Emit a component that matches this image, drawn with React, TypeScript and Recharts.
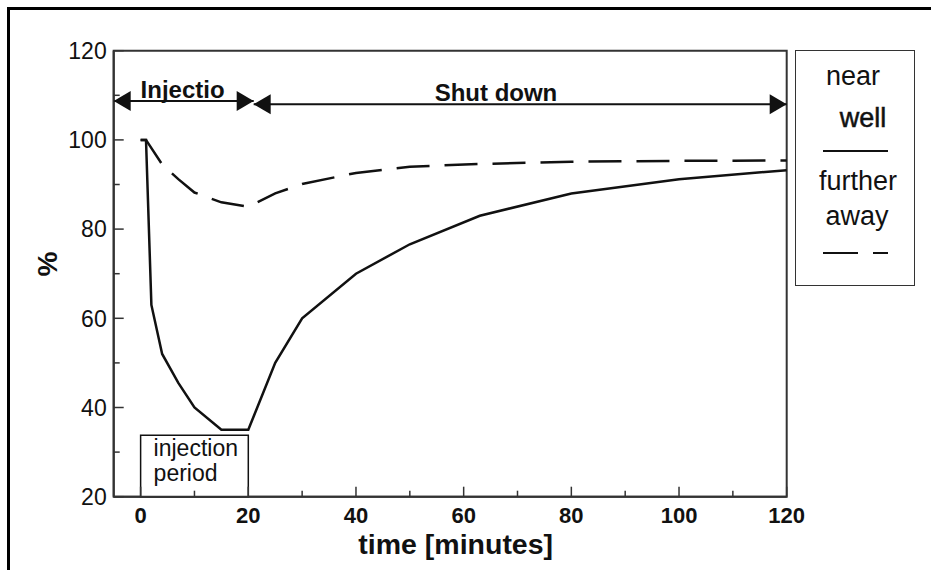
import { LineChart, Line, XAxis, YAxis, ReferenceArea, ReferenceLine, ReferenceDot, Label } from 'recharts';

// time in minutes and the two recovery curves (%)
const time = [0, 1, 2, 4, 7, 10, 15, 20, 25, 30, 40, 50, 63, 80, 100, 120];
const nearWell = [100, 100, 63, 52, 45.5, 40, 35, 35, 50, 60, 70, 76.6, 83, 88, 91.2, 93.2];
const furtherAway = [100, 100, null, 94.5, 91.2, 88.2, 86, 85, 88, 90.1, 92.6, 94, 94.6, 95.1, 95.3, 95.4];

const xTicks = [0, 10, 20, 30, 40, 50, 60, 70, 80, 90, 100, 110, 120];
const yTicks = [20, 30, 40, 50, 60, 70, 80, 90, 100, 110, 120];

const data = time.map((t, i) => ({ t, near: nearWell[i], far: furtherAway[i] }));

const FONT = '"Liberation Sans", Arial, sans-serif';
const INK = '#111';
const AXIS = '#333';
const DASH = '33 15';

const XTick = (props: any) => {
	const { x, y, payload } = props;
	const major = payload.value % 20 === 0;
	return (
		<g>
			<line x1={x} x2={x} y1={y} y2={y - (major ? 10 : 6)} stroke={AXIS} strokeWidth={1.5} />
			{major && (
				<text x={x} y={y + 26} textAnchor='middle' fontSize={22} fontWeight='bold' fill={INK} fontFamily={FONT}>
					{payload.value}
				</text>
			)}
		</g>
	);
};

const YTick = (props: any) => {
	const { x, y, payload } = props;
	const major = payload.value % 20 === 0;
	return (
		<g>
			<line x1={x} x2={x + (major ? 10 : 6)} y1={y} y2={y} stroke={AXIS} strokeWidth={1.5} />
			{major && (
				<text x={x - 7} y={y} dy='0.36em' textAnchor='end' fontSize={23} fill={INK} fontFamily={FONT}>
					{payload.value}
				</text>
			)}
		</g>
	);
};

const arrowHead = (dir: 'left' | 'right') => (p: any) => {
	const s = dir === 'left' ? 1 : -1;
	return (
		<polygon
			points={`${p.cx},${p.cy} ${p.cx + s * 17},${p.cy - 10} ${p.cx + s * 17},${p.cy + 10}`}
			fill={INK}
		/>
	);
};

const textShape = (label: string) => (p: any) => (
	<text x={p.cx} y={p.cy} textAnchor='middle' fontSize={24} fontWeight='bold' fill={INK} fontFamily={FONT}>
		{label}
	</text>
);

const App = () => {
	return (
		<div style={{ position: 'fixed', left: 0, top: 0, width: 931, height: 570, background: '#fff', fontFamily: FONT }}>
			<div style={{ position: 'absolute', left: 7.3, top: 7.3, width: 924, height: 3, background: '#000' }} />
			<div style={{ position: 'absolute', left: 7.3, top: 7.3, width: 3, height: 563, background: '#000' }} />

			<LineChart
				width={931}
				height={570}
				data={data}
				margin={{ top: 50.7, right: 144.3, bottom: 33.3, left: 13.7 }}
				style={{ position: 'absolute', left: 0, top: 0 }}
			>
				<XAxis
					dataKey='t'
					type='number'
					domain={[-5, 120]}
					ticks={xTicks}
					interval={0}
					height={40}
					tickSize={0}
					tickMargin={0}
					tick={<XTick />}
					axisLine={{ stroke: AXIS, strokeWidth: 2 }}
					tickLine={false}
				>
					<Label
						content={(p: any) => (
							<text
								x={p.viewBox.x + p.viewBox.width / 2 + 5.5}
								y={p.viewBox.y + 57}
								textAnchor='middle'
								fontSize={28.5}
								fontWeight='bold'
								fill={INK}
								fontFamily={FONT}
							>
								time [minutes]
							</text>
						)}
					/>
				</XAxis>
				<YAxis
					type='number'
					domain={[20, 120]}
					ticks={yTicks}
					interval={0}
					width={100}
					tickSize={0}
					tickMargin={0}
					tick={<YTick />}
					axisLine={{ stroke: AXIS, strokeWidth: 2 }}
					tickLine={false}
				>
					<Label
						content={(p: any) => {
							const cx = 47.5;
							const cy = p.viewBox.y + p.viewBox.height / 2 - 9.7;
							return (
								<text
									x={cx}
									y={cy}
									transform={`rotate(-90 ${cx} ${cy})`}
									textAnchor='middle'
									dominantBaseline='central'
									fontSize={28}
									fontWeight='bold'
									fill={INK}
									fontFamily={FONT}
								>
									%
								</text>
							);
						}}
					/>
				</YAxis>

				<ReferenceArea x1={-5} x2={120} y1={20} y2={120} fill='none' stroke={AXIS} strokeWidth={2} />

				<Line
					type='linear'
					dataKey='far'
					stroke={INK}
					strokeWidth={2.5}
					strokeDasharray={DASH}
					dot={false}
					connectNulls
					isAnimationActive={false}
				/>
				<Line type='linear' dataKey='near' stroke={INK} strokeWidth={2.5} dot={false} isAnimationActive={false} />

				<ReferenceArea
					x1={0}
					x2={20}
					y1={20}
					y2={33.8}
					fill='#fff'
					fillOpacity={1}
					stroke={INK}
					strokeWidth={1.5}
					label={(p: any) => (
						<g fontFamily={FONT} fontSize={23} fill={INK}>
							<text x={p.viewBox.x + 13} y={p.viewBox.y + 21}>injection</text>
							<text x={p.viewBox.x + 13} y={p.viewBox.y + 46}>period</text>
						</g>
					)}
				/>

				<ReferenceLine segment={[{ x: -5, y: 108.7 }, { x: 21, y: 108.7 }]} stroke={INK} strokeWidth={2} />
				<ReferenceLine segment={[{ x: 21, y: 108 }, { x: 120, y: 108 }]} stroke={INK} strokeWidth={2} />
				<ReferenceDot x={-5} y={108.7} shape={arrowHead('left')} />
				<ReferenceDot x={21} y={108.7} shape={arrowHead('right')} />
				<ReferenceDot x={21} y={108} shape={arrowHead('left')} />
				<ReferenceDot x={120} y={108} shape={arrowHead('right')} />
				<ReferenceDot x={7.8} y={109.5} shape={textShape('Injectio')} />
				<ReferenceDot x={66} y={108.8} shape={textShape('Shut down')} />
			</LineChart>

			<div
				style={{
					position: 'absolute',
					left: 794.7,
					top: 50,
					width: 120.3,
					height: 235.7,
					border: `1.5px solid ${AXIS}`,
					boxSizing: 'border-box',
				}}
			>
				<svg width={118} height={233} style={{ position: 'absolute', left: 0, top: 0 }} fontFamily={FONT} fill={INK}>
					<text x={57} y={34} textAnchor='middle' fontSize={27}>near</text>
					<text x={67} y={76} textAnchor='middle' fontSize={27} stroke={INK} strokeWidth={0.5}>well</text>
					<line x1={27} x2={92} y1={100} y2={100} stroke={INK} strokeWidth={2} />
					<text x={62} y={139} textAnchor='middle' fontSize={27}>further</text>
					<text x={61} y={174} textAnchor='middle' fontSize={27}>away</text>
					<line x1={27} x2={92} y1={202} y2={202} stroke={INK} strokeWidth={2} strokeDasharray='35 15' />
				</svg>
			</div>
		</div>
	);
};

export default App;
